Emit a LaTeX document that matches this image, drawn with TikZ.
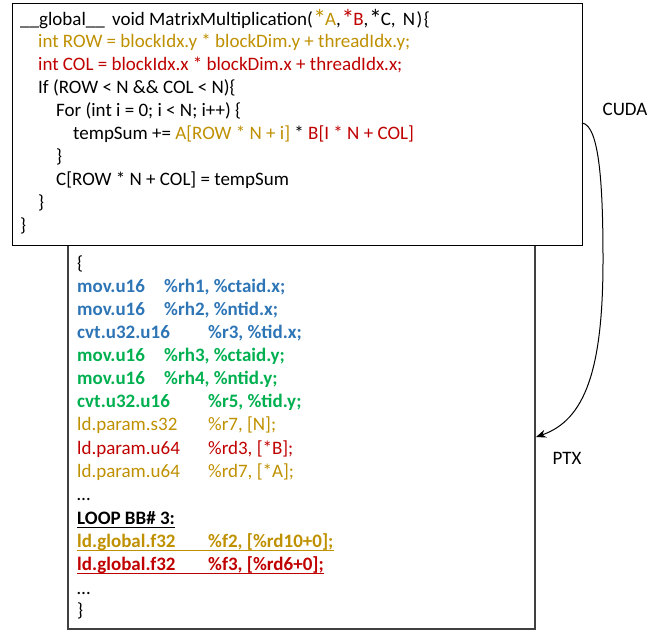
\documentclass[tikz,border=0pt]{standalone}
\usepackage{fontspec}
\setmainfont{Carlito}
\usetikzlibrary{arrows.meta}
\definecolor{cblue}{HTML}{2E75B6}
\definecolor{cgreen}{HTML}{00B050}
\definecolor{cgold}{HTML}{BF9000}
\definecolor{cred}{HTML}{C00000}
\newcommand{\cA}[1]{\makebox[87pt][l]{#1}}
\newcommand{\cB}[1]{\makebox[131pt][l]{#1}}
\newcommand{\bigstar}{\makebox[10.5pt]{\raisebox{-2pt}{\scalebox{1.35}{*}}}}
\begin{document}
\begin{tikzpicture}[x=1pt,y=-1pt,
  codeline/.style={anchor=base west,inner sep=0pt,font=\fontsize{19}{23}\selectfont},
  lbl/.style={anchor=center,inner sep=0pt,font=\fontsize{19}{23}\selectfont},
  ulinestyle/.style={line width=1.6pt}]
\useasboundingbox (0,0) rectangle (671,630);
% PTX box (behind)
\draw[draw=black!75,line width=1.1pt] (68,240) rectangle (535,629);
\coordinate (ptxin) at (536,437);
% CUDA box
\draw[fill=white,line width=1pt] (12,3) rectangle (582,245);
\coordinate (cudaout) at (582,123);
% CUDA code
\node[codeline] (c1) at (20,25) {\makebox[92pt][l]{\_\_global\_\_}void MatrixMultiplication(\hspace{1.5pt}\textcolor{cgold}{\bigstar A},\hspace{2pt}\textcolor{cred}{\bigstar B},\hspace{2pt}\bigstar C,\hspace{3pt} N\hspace{1.5pt})\hspace{1.5pt}\{};
\node[codeline,text=cgold] (c2) at (38,47.5) {int ROW = blockIdx.y * blockDim.y + threadIdx.y;};
\node[codeline,text=cred] (c3) at (38,70) {int COL = blockIdx.x * blockDim.x + threadIdx.x;};
\node[codeline] (c4) at (38,93) {If (ROW < N \&\& COL < N)\{};
\node[codeline] (c5) at (56,116) {For (int i = 0; i < N; i++) \{};
\node[codeline] (c6) at (73,139) {tempSum += \textcolor{cgold}{A[ROW * N + i]} * \textcolor{cred}{B[I * N + COL]}};
\node[codeline] (c7) at (56,162) {\}};
\node[codeline] (c8) at (56,185) {C[ROW * N + COL] = tempSum};
\node[codeline] (c9) at (38,208) {\}};
\node[codeline] (c10) at (20,231) {\}};
% PTX code
\node[codeline] (p1) at (77,269) {\{};
\node[codeline,text=cblue,font=\fontsize{19}{23}\selectfont\bfseries] (p2) at (77,292) {\cA{mov.u16}\%rh1, \%ctaid.x;};
\node[codeline,text=cblue,font=\fontsize{19}{23}\selectfont\bfseries] (p3) at (77,315) {\cA{mov.u16}\%rh2, \%ntid.x;};
\node[codeline,text=cblue,font=\fontsize{19}{23}\selectfont\bfseries] (p4) at (77,338) {\cB{cvt.u32.u16}\%r3, \%tid.x;};
\node[codeline,text=cgreen,font=\fontsize{19}{23}\selectfont\bfseries] (p5) at (77,361) {\cA{mov.u16}\%rh3, \%ctaid.y;};
\node[codeline,text=cgreen,font=\fontsize{19}{23}\selectfont\bfseries] (p6) at (77,384) {\cA{mov.u16}\%rh4, \%ntid.y;};
\node[codeline,text=cgreen,font=\fontsize{19}{23}\selectfont\bfseries] (p7) at (77,407) {\cB{cvt.u32.u16}\%r5, \%tid.y;};
\node[codeline,text=cgold] (p8) at (77,430) {\cB{ld.param.s32}\%r7, [N];};
\node[codeline,text=cred] (p9) at (77,454) {\cB{ld.param.u64}\%rd3, [*B];};
\node[codeline,text=cgold] (p10) at (77,477) {\cB{ld.param.u64}\%rd7, [*A];};
\node[codeline] (p11) at (77,500) {…};
\node[codeline,font=\fontsize{19}{23}\selectfont\bfseries] (p12) at (77,524) {LOOP BB\# 3:};
\node[codeline,text=cgold,font=\fontsize{19}{23}\selectfont\bfseries] (p13) at (77,547) {\cB{ld.global.f32}\%f2, [\%rd10+0];};
\node[codeline,text=cred,font=\fontsize{19}{23}\selectfont\bfseries] (p14) at (77,570) {\cB{ld.global.f32}\%f3, [\%rd6+0];};
\node[codeline] (p15) at (77,594) {…};
\node[codeline] (p16) at (77,616) {\}};
% underlines
\draw[ulinestyle,black] ([yshift=-3.5pt]p12.base west) -- ([yshift=-3.5pt]p12.base east);
\draw[ulinestyle,cgold] ([yshift=-3.5pt]p13.base west) -- ([yshift=-3.5pt]p13.base east);
\draw[ulinestyle,cred] ([yshift=-3.5pt]p14.base west) -- ([yshift=-3.5pt]p14.base east);
% labels
\node[lbl] (cuda) at (625,109) {CUDA};
\node[lbl] (ptx) at (567,458) {PTX};
% arrow
\draw[line width=1pt,-{Stealth[length=10pt,width=8pt]}] (cudaout) .. controls (600,125) and (603,190) .. (603,260) .. controls (603,370) and (585,420) .. (ptxin);
\end{tikzpicture}
\end{document}
